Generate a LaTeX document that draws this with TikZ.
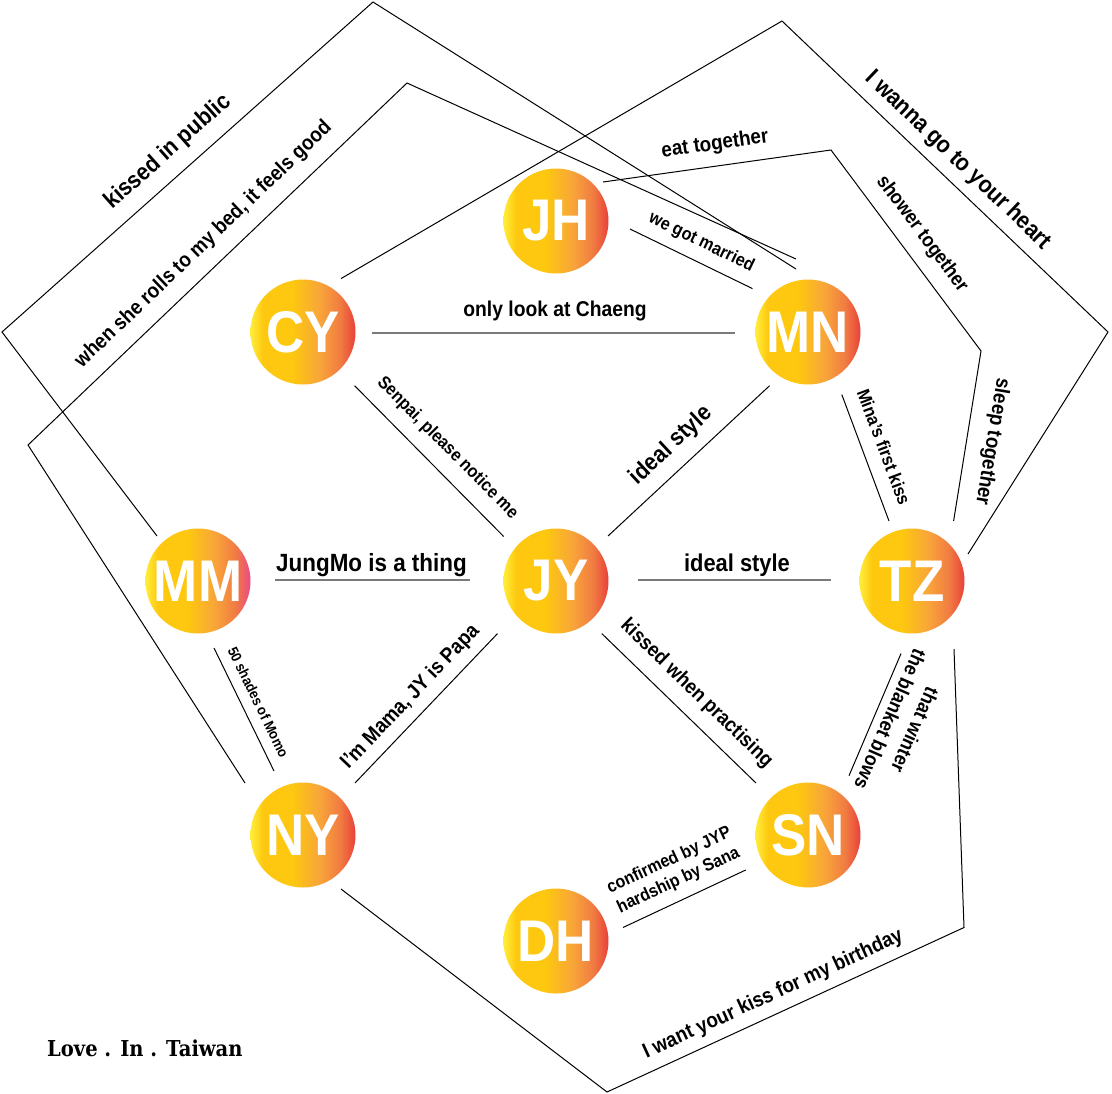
\documentclass[tikz,border=0pt]{standalone}
\usepackage{fontspec}
\setmainfont{Liberation Sans}
\newfontfamily\slabfont{DejaVu Serif}
\usetikzlibrary{calc}
\definecolor{gA}{HTML}{FFEE3B}
\definecolor{gB}{HTML}{FDC80F}
\definecolor{gC}{HTML}{F8A53A}
\definecolor{gD}{HTML}{F07A42}
\definecolor{gE}{HTML}{E8403A}
\definecolor{gP}{HTML}{EC4A86}
\definecolor{linegray}{HTML}{7A7A7A}
\pgfdeclarehorizontalshading{ballshade}{100bp}{color(0bp)=(gA); color(25bp)=(gA); color(31bp)=(gB); color(45bp)=(gB); color(58bp)=(gC); color(68bp)=(gD); color(75bp)=(gE); color(100bp)=(gE)}
\pgfdeclarehorizontalshading{ballshadepink}{100bp}{color(0bp)=(gA); color(25bp)=(gA); color(31bp)=(gB); color(45bp)=(gB); color(58bp)=(gC); color(68bp)=(gD); color(75bp)=(gP); color(100bp)=(gP)}
\newcommand\fz[1]{\bfseries\fontsize{#1}{#1}\selectfont}
% narrow-ish bold text: larger size, horizontally compressed
\newcommand\nt[2]{\scalebox{0.9}[1]{\fz{#1}#2}}
\newcommand\ntt[4]{\scalebox{0.9}[1]{\bfseries\fontsize{#1}{#2}\selectfont\begin{tabular}{@{}c@{}}#3\\#4\end{tabular}}}
\tikzset{
  ballnode/.style={circle, minimum size=105bp, inner sep=0pt, shading=ballshade, text=white},
  link/.style={line width=1bp, black},
  glink/.style={line width=2.5bp, linegray},
  lab/.style={inner sep=0pt, text=black}
}
\newcommand\bl[1]{\scalebox{0.9}[1]{\fz{59}#1}}
\begin{document}
\begin{tikzpicture}[x=1bp,y=-1bp]
\useasboundingbox[fill=white] (0,0) rectangle (1112,1094);
% nodes
\node[ballnode] (JH) at (556,221) {\bl{JH}};
\node[ballnode] (CY) at (303,332) {\bl{CY}};
\node[ballnode] (MN) at (808,332) {\bl{MN}};
\node[ballnode, shading=ballshadepink] (MM) at (198,581) {\bl{MM}};
\node[ballnode] (JY) at (556,581) {\bl{JY}};
\node[ballnode] (TZ) at (912,581) {\bl{TZ}};
\node[ballnode] (NY) at (303,835) {\bl{NY}};
\node[ballnode] (SN) at (808,835) {\bl{SN}};
\node[ballnode] (DH) at (556,941) {\bl{DH}};
% corner coordinates
\coordinate (k1) at (2,332);
\coordinate (k2) at (373,2);
\coordinate (w1) at (28,445);
\coordinate (w2) at (407,83);
\coordinate (h1) at (782,21);
\coordinate (h2) at (1108,332);
\coordinate (e1) at (831,150);
\coordinate (e2) at (981,351);
\coordinate (b1) at (607,1092);
\coordinate (b2) at (964,927.5);
% gray horizontal connectors
\draw[glink] ($(CY)+(69,1)$) -- ($(MN)+(-73,1)$);
\draw[glink] ($(MM)+(77,-1)$) -- ($(JY)+(-86,-1)$);
\draw[glink] ($(JY)+(81.5,-1)$) -- ($(TZ)+(-81,-1)$);
% thin connectors
\draw[link] ($(CY)+(51.6,53.7)$) -- ($(JY)+(-52.4,-44.6)$);
\draw[link] ($(CY)+(38,-53.4)$) -- (h1) -- (h2) -- ($(TZ)+(56,-27)$);
\draw[link] ($(MM)+(-41,-45)$) -- (k1) -- (k2) -- ($(MN)+(-12,-63)$);
\draw[link] ($(NY)+(-58,-52)$) -- (w1) -- (w2) -- ($(MN)+(-12,-73)$);
\draw[link] ($(JH)+(47,-39)$) -- (e1) -- (e2) -- ($(TZ)+(41.6,-60)$);
\draw[link] ($(JH)+(74,8)$) -- ($(MN)+(-55.5,-43.4)$);
\draw[link] ($(MN)+(-38.4,53.7)$) -- ($(JY)+(52,-45)$);
\draw[link] ($(MN)+(33.8,62.6)$) -- ($(TZ)+(-23,-60)$);
\draw[link] ($(MM)+(16,67)$) -- ($(NY)+(-29,-64)$);
\draw[link] ($(NY)+(52,-52)$) -- ($(JY)+(-58.5,52.6)$);
\draw[link] ($(NY)+(38,54)$) -- (b1) -- (b2) -- ($(TZ)+(42,68)$);
\draw[link] ($(JY)+(45.8,52.6)$) -- ($(SN)+(-52,-52)$);
\draw[link] ($(TZ)+(-11,72.6)$) -- ($(SN)+(41,-59.3)$);
\draw[link] ($(SN)+(-62.3,35)$) -- ($(DH)+(67,-13.5)$);
% labels
\node[lab, anchor=base] (l1) at (555,316) {\nt{21.5}{only look at Chaeng}};
\node[lab, anchor=base] (l2) at (371.5,571) {\nt{25}{JungMo is a thing}};
\node[lab, anchor=base] (l3) at (737,571) {\nt{24.4}{ideal style}};
\node[lab, rotate=-45.3] (l4) at (447.5,448) {\nt{18}{Senpai, please notice me}};
\node[lab, rotate=42.9] (l5) at (671.5,445.5) {\nt{23.8}{ideal style}};
\node[lab, rotate=41.6] (l6) at (168,152) {\nt{23.8}{kissed in public}};
\node[lab, rotate=43.7] (l7) at (203.6,244.6) {\nt{21}{when she rolls to my bed, it feels good}};
\node[lab, rotate=-43.6] (l8) at (958,160.5) {\nt{23.8}{I wanna go to your heart}};
\node[lab, rotate=8] (l9) at (715,144.6) {\nt{21}{eat together}};
\node[lab, rotate=-25.9] (l10) at (701.4,242.5) {\nt{18}{we got married}};
\node[lab, rotate=-53.3] (l11) at (922,234) {\nt{20}{shower together}};
\node[lab, rotate=-99.5] (l12) at (992,441.6) {\nt{21}{sleep together}};
\node[lab, rotate=-69.5] (l13) at (884,447) {\nt{18.2}{Mina’s first kiss}};
\node[lab, rotate=-64] (l14) at (258.4,702.1) {\nt{14.5}{50 shades of Momo}};
\node[lab, rotate=46.4] (l15) at (410.4,697) {\nt{21}{I’m Mama, JY is Papa}};
\node[lab, rotate=24.7] (l16) at (773.2,994.5) {\nt{21}{I want your kiss for my birthday}};
\node[lab, rotate=-44.1] (l17) at (696.4,693.6) {\nt{20.6}{kissed when practising}};
\node[lab, rotate=-113.6] (l18) at (901.3,724) {\ntt{20}{27}{that winter}{the blanket blows}};
\node[lab, rotate=25.1] (l19) at (674,871) {\ntt{17.8}{22}{confirmed by JYP}{hardship by Sana}};
\node[lab, anchor=base west] (title) at (47,1056) {\scalebox{0.89}[1]{\slabfont\bfseries\fontsize{22}{22}\selectfont Love . In . Taiwan}};
\end{tikzpicture}
\end{document}
